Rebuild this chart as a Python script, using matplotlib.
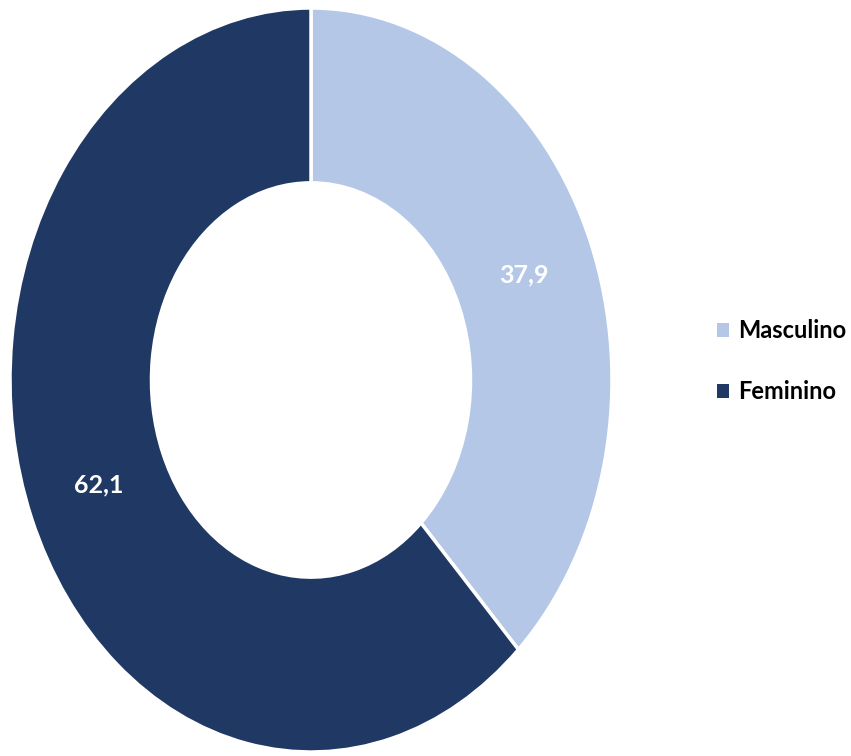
import matplotlib.pyplot as plt
from matplotlib.patches import Patch

plt.rcParams['font.family'] = ['Lato', 'DejaVu Sans']

"Data"
categorias = ['Masculino', 'Feminino']
valores = [37.9, 62.1]
cores = ['#B4C7E7', '#203864']

fig = plt.figure(figsize=(8.51, 7.56), dpi=100)
ax = fig.add_axes([10/851, 4/756, 602/851, 744/756])

wedges, texts, autotexts = ax.pie(
    valores, colors=cores, startangle=90, counterclock=False,
    radius=1, autopct=lambda p: f'{p:.1f}'.replace('.', ','),
    pctdistance=0.76,
    wedgeprops=dict(width=0.47, edgecolor='white', linewidth=2.5),
    textprops=dict(color='white', fontsize=18, fontweight='bold'))

ax.set_aspect('auto')
ax.set_xlim(-1.0, 1.0)
ax.set_ylim(-1.0, 1.0)
ax.axis('off')

"Legend"
handles = [Patch(facecolor=c, edgecolor='none') for c in cores]
fig.legend(handles, categorias, loc='center left', bbox_to_anchor=(0.817, 0.522),
           frameon=False, handlelength=0.52, handleheight=0.52, handletextpad=0.38,
           labelspacing=1.6, prop=dict(size=17, weight='bold'))

plt.savefig('out.png', dpi=100)
